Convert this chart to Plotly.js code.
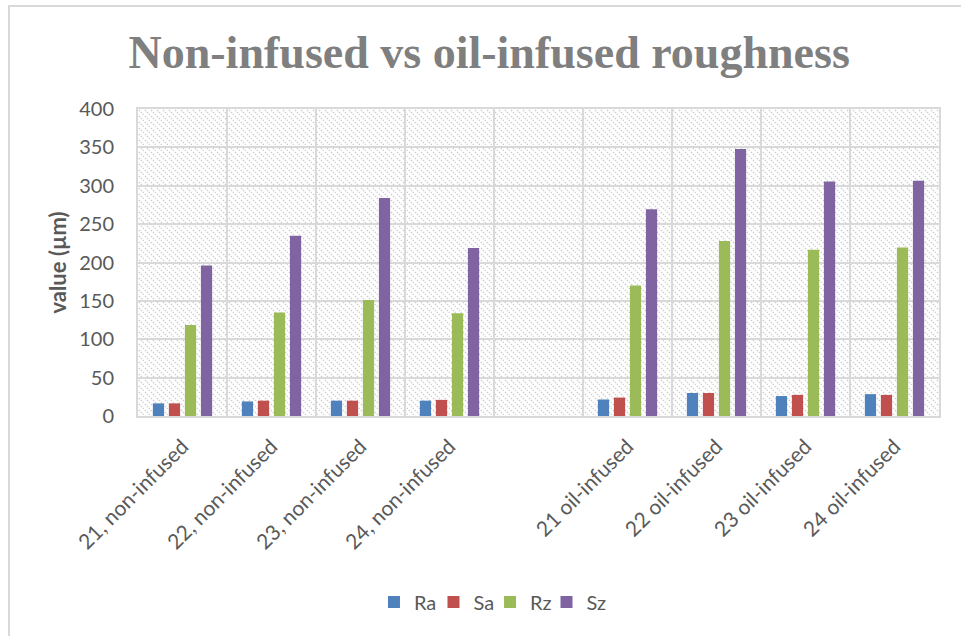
<!DOCTYPE html>
<html>
<head>
<meta charset="utf-8">
<script src="https://cdn.plot.ly/plotly-3.0.1.min.js"></script>
<style>
  html, body { margin: 0; padding: 0; background: #ffffff; }
  #wrap { position: relative; width: 961px; height: 636px; overflow: hidden; }
  #chart { position: absolute; left: 0; top: 0; width: 961px; height: 636px; }
  #frame { position: absolute; left: 8px; top: 5px; right: -10px; bottom: -10px;
           border-left: 2px solid #d9d9d9; border-top: 2px solid #d9d9d9; pointer-events: none; }
</style>
</head>
<body>
<div id="wrap">
  <div id="chart"></div>
  <div id="frame"></div>
</div>
<script>
// Sample labels (the blank slot separates the two groups)
const categories = ['21, non-infused', '22, non-infused', '23, non-infused', '24, non-infused', ' ',
                    '21 oil-infused', '22 oil-infused', '23 oil-infused', '24 oil-infused'];

// Roughness values in µm
const ra = [16.5, 19, 20, 20, null, 21.5, 30, 26, 28.5];
const sa = [16.5, 20, 20, 21, null, 24, 30, 27.5, 27.5];
const rz = [118.5, 135, 151, 134, null, 170, 228, 216.5, 219.5];
const sz = [196, 235, 284, 219, null, 269.5, 348, 305.5, 306.5];

const seriesNames = ['Ra', 'Sa', 'Rz', 'Sz'];
const seriesValues = [ra, sa, rz, sz];
const seriesColors = ['#4f81bd', '#c0504d', '#9bbb59', '#8064a2'];

// each series gets its own legend box so the entries can sit close together
const legendIds = ['legend2', 'legend3', 'legend4', 'legend5'];
const legendX = [0.2946, 0.3689, 0.4395, 0.5100];

const traces = seriesNames.map((name, i) => ({
  type: 'bar',
  name: name,
  x: categories,
  y: seriesValues[i],
  legend: legendIds[i],
  showlegend: true,
  marker: { color: seriesColors[i], line: { width: 0 } },
  hoverinfo: 'x+y+name'
}));

// Diagonal dotted hatch for the plot background
const plotW = 801, plotH = 307;
const hatchSvg =
  "<svg xmlns='http://www.w3.org/2000/svg' width='" + plotW + "' height='" + plotH + "' preserveAspectRatio='none'>" +
  "<defs><pattern id='h' width='6' height='6' patternUnits='userSpaceOnUse'>" +
  "<path d='M-1,-1 L7,7' stroke='#cfcfcf' stroke-width='1.5' stroke-dasharray='1.5,1.3'/>" +
  "</pattern></defs>" +
  "<rect width='100%' height='100%' fill='url(#h)'/></svg>";
const hatchUri = 'data:image/svg+xml;charset=utf-8,' + encodeURIComponent(hatchSvg);

const textColor = '#595959';
const gridColor = '#d9d9d9';
const baseFont = 'Lato, "Open Sans", sans-serif';

const layout = {
  width: 961,
  height: 636,
  showlegend: true,
  paper_bgcolor: '#ffffff',
  plot_bgcolor: 'rgba(0,0,0,0)',
  margin: { l: 138, r: 22, t: 109, b: 220 },
  barmode: 'group',
  bargap: 0.28,
  bargroupgap: 0.3,
  font: { family: baseFont, color: textColor, size: 20 },
  title: {
    text: '<b>Non-infused vs oil-infused roughness</b>',
    font: { family: '"Liberation Serif", "DejaVu Serif", serif', size: 46, color: '#7f7f7f' },
    x: 0.509, xanchor: 'center',
    y: 0.918, yanchor: 'middle'
  },
  xaxis: {
    type: 'category',
    tickangle: -45,
    tickson: 'boundaries',
    ticks: '',
    showgrid: true,
    gridcolor: gridColor,
    gridwidth: 2,
    showline: true,
    mirror: true,
    linecolor: gridColor,
    linewidth: 2,
    ticklabelstandoff: 8,
    tickfont: { family: baseFont, size: 21, color: textColor },
    fixedrange: true
  },
  yaxis: {
    range: [0, 400],
    dtick: 50,
    ticks: '',
    showgrid: true,
    gridcolor: gridColor,
    gridwidth: 2,
    zeroline: false,
    showline: true,
    mirror: true,
    linecolor: gridColor,
    linewidth: 2,
    ticklabelstandoff: 18,
    tickfont: { family: baseFont, size: 20, color: textColor },
    fixedrange: true
  },
  // vertical axis title
  annotations: [{
    text: '<b>value (µm)</b>',
    textangle: -90,
    xref: 'paper', yref: 'paper',
    x: -0.101, y: 0.5,
    xanchor: 'center', yanchor: 'middle',
    showarrow: false,
    font: { family: baseFont, size: 22, color: textColor }
  }],
  images: [{
    source: hatchUri,
    xref: 'paper', yref: 'paper',
    x: 0, y: 1, sizex: 1, sizey: 1,
    xanchor: 'left', yanchor: 'top',
    sizing: 'stretch',
    layer: 'below'
  }]
};

legendIds.forEach((id, i) => {
  layout[id] = {
    orientation: 'h',
    x: legendX[i], xanchor: 'left',
    y: -0.606, yanchor: 'middle',
    bgcolor: 'rgba(0,0,0,0)',
    font: { family: baseFont, size: 20, color: textColor },
    itemwidth: 30
  };
});

Plotly.newPlot('chart', traces, layout, { displayModeBar: false });
</script>
</body>
</html>
